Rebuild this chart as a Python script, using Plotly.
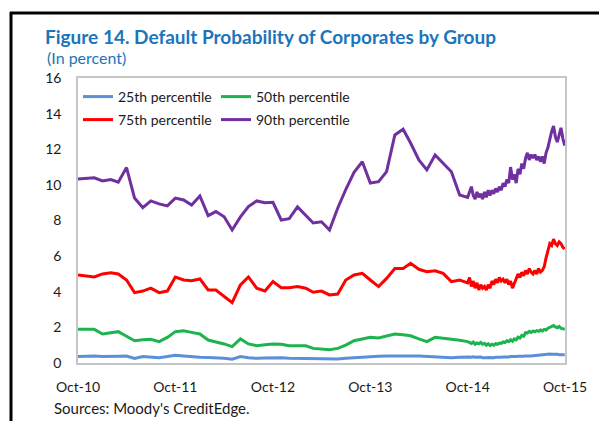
import pandas as pd
import plotly.graph_objects as go

# ---------------- data ----------------
series_names = ["25th percentile", "50th percentile", "75th percentile", "90th percentile"]

# monthly observations Oct-2010 .. Sep-2014
monthly_dates = pd.date_range("2010-10-01", periods=48, freq="MS")
# weekly observations Oct-2014 .. Sep-2015
weekly_dates = pd.date_range("2014-10-01", periods=53, freq="7D")

p25_monthly = [0.36, 0.38, 0.39, 0.37, 0.36, 0.38, 0.39, 0.26, 0.36, 0.33, 0.30, 0.36,
               0.43, 0.39, 0.35, 0.32, 0.31, 0.30, 0.26, 0.21, 0.36, 0.30, 0.26, 0.28,
               0.30, 0.29, 0.27, 0.26, 0.26, 0.24, 0.22, 0.21, 0.22, 0.26, 0.30, 0.34,
               0.36, 0.38, 0.40, 0.41, 0.40, 0.39, 0.39, 0.36, 0.33, 0.30, 0.30, 0.32]
p25_weekly = [0.36, 0.34, 0.33, 0.35, 0.32, 0.33, 0.31, 0.33, 0.30, 0.32, 0.30, 0.31, 0.30,
              0.31, 0.30, 0.32, 0.31, 0.33, 0.32, 0.34, 0.33, 0.35, 0.34, 0.36, 0.35, 0.37,
              0.36, 0.38, 0.37, 0.39, 0.38, 0.40, 0.39, 0.41, 0.40, 0.41, 0.42, 0.43, 0.44,
              0.46, 0.47, 0.50, 0.52, 0.50, 0.51, 0.49, 0.50, 0.48, 0.49, 0.47, 0.48, 0.47, 0.47]

p50_monthly = [1.89, 1.89, 1.89, 1.63, 1.70, 1.76, 1.50, 1.25, 1.30, 1.33, 1.20, 1.44,
               1.76, 1.81, 1.72, 1.63, 1.29, 1.20, 1.07, 0.92, 1.35, 1.07, 0.97, 1.02,
               1.07, 1.05, 0.97, 0.97, 0.97, 0.82, 0.78, 0.75, 0.82, 1.00, 1.25, 1.35,
               1.44, 1.40, 1.50, 1.63, 1.58, 1.53, 1.35, 1.20, 1.44, 1.40, 1.35, 1.28]
p50_weekly = [1.20, 1.15, 1.10, 1.18, 1.05, 1.12, 1.08, 1.15, 1.05, 1.10, 1.00, 1.08, 0.98,
              1.05, 1.00, 1.08, 1.05, 1.12, 1.10, 1.18, 1.15, 1.25, 1.20, 1.30, 1.22, 1.35,
              1.30, 1.45, 1.40, 1.55, 1.50, 1.70, 1.68, 1.78, 1.72, 1.80, 1.75, 1.82, 1.78,
              1.85, 1.80, 1.88, 1.85, 1.95, 2.00, 2.05, 2.10, 2.02, 1.98, 2.05, 1.95, 1.92, 1.90]

p75_monthly = [4.94, 4.88, 4.83, 5.00, 5.07, 5.00, 4.66, 3.95, 4.04, 4.20, 3.95, 4.04,
               4.83, 4.66, 4.62, 4.72, 4.10, 4.10, 3.76, 3.39, 4.38, 4.83, 4.20, 4.04,
               4.57, 4.23, 4.23, 4.29, 4.20, 3.97, 4.04, 3.82, 3.87, 4.66, 4.94, 5.03,
               4.66, 4.29, 4.75, 5.31, 5.31, 5.60, 5.26, 5.13, 5.18, 5.03, 4.57, 4.66]
p75_weekly = [4.50, 4.80, 4.30, 4.60, 4.20, 4.50, 4.10, 4.40, 4.20, 4.30, 4.10, 4.40, 4.20,
              4.60, 4.40, 4.70, 4.50, 4.80, 4.60, 4.70, 4.50, 4.70, 4.40, 4.60, 4.20, 4.50,
              4.80, 5.00, 4.80, 5.10, 4.90, 5.20, 5.00, 5.30, 5.10, 5.00, 5.20, 5.00, 5.30,
              5.10, 5.20, 5.40, 5.90, 6.30, 6.70, 6.60, 6.95, 6.70, 6.60, 6.80, 6.70, 6.50, 6.40]

p90_monthly = [10.33, 10.38, 10.40, 10.22, 10.30, 10.15, 10.97, 9.26, 8.72, 9.10, 8.93, 8.82,
               9.26, 9.15, 8.87, 9.38, 8.27, 8.50, 8.21, 7.47, 8.20, 8.78, 9.10, 9.00,
               9.02, 8.03, 8.10, 8.76, 8.30, 7.86, 7.93, 7.47, 8.70, 9.74, 10.70, 11.30,
               10.10, 10.18, 10.74, 12.80, 13.12, 12.35, 11.40, 10.84, 11.68, 11.21, 10.74, 9.43]
p90_weekly = [9.30, 9.60, 9.90, 9.40, 9.20, 9.60, 9.30, 9.50, 9.20, 9.60, 9.30, 9.70, 9.40,
              9.70, 9.50, 9.80, 9.60, 9.90, 9.70, 10.10, 9.90, 10.30, 10.10, 11.00, 10.30, 10.60,
              10.10, 10.90, 10.60, 11.20, 10.90, 11.50, 11.80, 11.40, 11.70, 11.50, 11.70, 11.40, 11.60,
              11.30, 11.60, 11.20, 11.80, 12.10, 12.60, 13.00, 13.30, 12.70, 12.40, 12.90, 13.20, 12.60, 12.20]

x_tick_dates = ["2010-10-01", "2011-10-01", "2012-10-01", "2013-10-01", "2014-10-01", "2015-10-01"]
x_tick_labels = ["Oct-10", "Oct-11", "Oct-12", "Oct-13", "Oct-14", "Oct-15"]
y_tick_values = [0, 2, 4, 6, 8, 10, 12, 14, 16]

title_text = "Figure 14. Default Probability of Corporates by Group"
subtitle_text = "(In percent)"
source_text = "Sources: Moody's CreditEdge."

# ---------------- styling ----------------
colors = ["#5B8FD8", "#1DB34F", "#FF0000", "#7030A0"]
legend_ids = ["legend", "legend2", "legend3", "legend4"]
FONT = "Lato"
W, H = 599, 421
ML, MR, MT, MB = 78, 34, 78, 58
PW, PH = W - ML - MR, H - MT - MB

def px_x(px):
    return (px - ML) / PW

def px_y(py):
    return (H - MB - py) / PH

dates = list(monthly_dates) + list(weekly_dates)
all_series = [p25_monthly + p25_weekly, p50_monthly + p50_weekly,
              p75_monthly + p75_weekly, p90_monthly + p90_weekly]

fig = go.Figure()
for name, vals, col, lg in zip(series_names, all_series, colors, legend_ids):
    fig.add_trace(go.Scatter(x=dates, y=vals, mode="lines", name=name,
                             line=dict(color=col, width=3), legend=lg))

axis_line = dict(showline=True, linecolor="#C6C6C6", linewidth=1.5, mirror=True,
                 showgrid=False, zeroline=False, ticks="")

legend_common = dict(orientation="h", xanchor="left", yanchor="top",
                     bgcolor="rgba(0,0,0,0)", font=dict(size=14, color="#1a1a1a"),
                     itemwidth=30)
col_x = [px_x(78), px_x(216)]
row_y = [px_y(81), px_y(104)]

fig.update_layout(
    width=W, height=H,
    margin=dict(l=ML, r=MR, t=MT, b=MB),
    paper_bgcolor="white", plot_bgcolor="white",
    font=dict(family=FONT, size=14, color="#1a1a1a"),
    showlegend=True,
    legend=dict(x=col_x[0], y=row_y[0], **legend_common),
    legend2=dict(x=col_x[1], y=row_y[0], **legend_common),
    legend3=dict(x=col_x[0], y=row_y[1], **legend_common),
    legend4=dict(x=col_x[1], y=row_y[1], **legend_common),
    title=dict(text="<b>" + title_text + "</b>", xref="container", yref="container",
               x=45 / W, y=1 - 37 / H, xanchor="left", yanchor="middle",
               font=dict(family=FONT, size=19, color="#1B75BC")),
)

fig.update_xaxes(type="date", range=["2010-10-01", "2015-10-01"],
                 tickvals=x_tick_dates, ticktext=x_tick_labels,
                 tickfont=dict(size=14, color="#1a1a1a"), ticklabelstandoff=10, **axis_line)
fig.update_yaxes(range=[0, 16], tickvals=y_tick_values,
                 tickfont=dict(size=14, color="#1a1a1a"), ticklabelstandoff=12, **axis_line)

fig.add_annotation(text=subtitle_text, xref="paper", yref="paper",
                   x=px_x(45), y=px_y(57), xanchor="left", yanchor="middle",
                   showarrow=False, font=dict(family=FONT, size=16, color="#1B75BC"))
fig.add_annotation(text=source_text, xref="paper", yref="paper",
                   x=px_x(52), y=px_y(408), xanchor="left", yanchor="middle",
                   showarrow=False, font=dict(family=FONT, size=15, color="#1a1a1a"))

# decorative page frame (black lines at left and top)
frame = dict(color="black", width=3)
fig.add_shape(type="line", xref="paper", yref="paper",
              x0=px_x(11), x1=px_x(11), y0=px_y(12), y1=px_y(H + 2), line=frame)
fig.add_shape(type="line", xref="paper", yref="paper",
              x0=px_x(10), x1=px_x(W + 2), y0=px_y(13), y1=px_y(13), line=frame)

fig.write_html("out.html", config={"displayModeBar": False},
               post_script="document.body.style.margin='0';")
